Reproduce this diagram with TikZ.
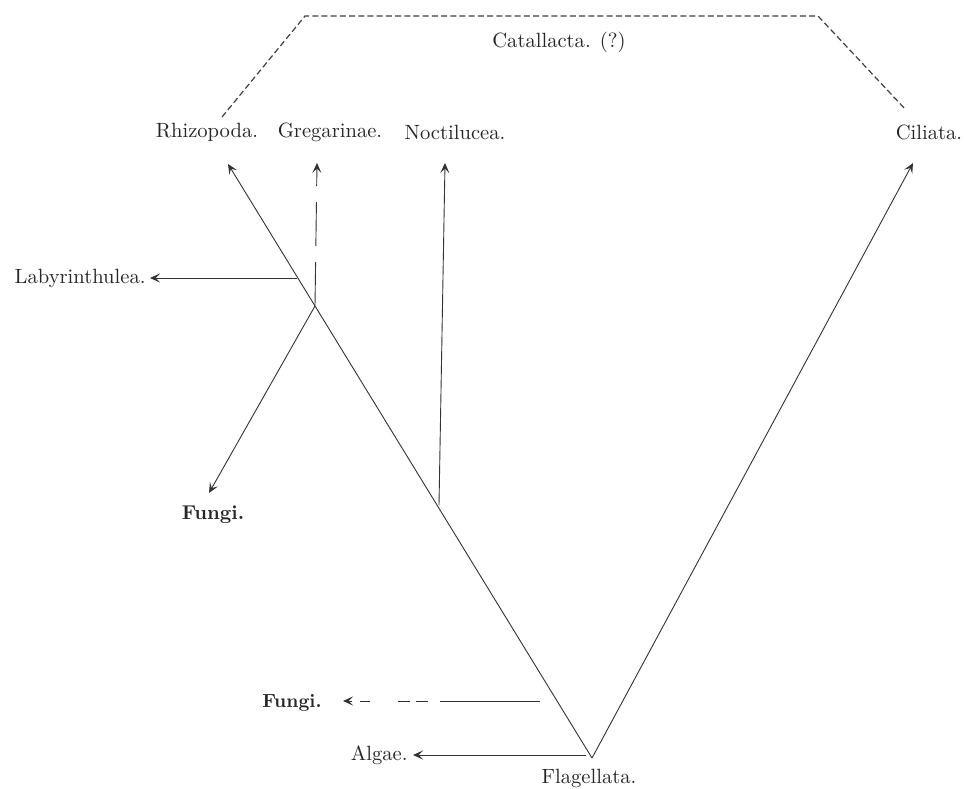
\documentclass[tikz,border=0pt]{standalone}
\usetikzlibrary{arrows.meta}
\begin{document}
\begin{tikzpicture}[x=0.5pt,y=-0.5pt,
  line width=0.45pt,
  ln/.style={draw=black!80},
  arr/.style={ln,-{Stealth[length=5pt,width=4.5pt,inset=2.2pt]}},
  dsh/.style={draw=black!75,line width=0.6pt,dash pattern=on 3pt off 1.6pt},
  lbl/.style={inner sep=1pt,text=black!85,font=\fontsize{10.3}{12}\selectfont}]
\useasboundingbox (0,0) rectangle (964,788);
\fill[white] (0,0) rectangle (964,788);
% coordinates
\coordinate (vtx) at (592,758);
\coordinate (rhT) at (228,164);
\coordinate (jL) at (297,278);
\coordinate (jG) at (315,306);
\coordinate (jN) at (439,505);
\coordinate (laT) at (150,278);
\coordinate (grT) at (317,163);
\coordinate (fuT) at (209,493);
\coordinate (noT) at (445,163);
\coordinate (ciT) at (913,163);
\coordinate (jF) at (540,701);
\coordinate (fbT) at (343,701);
\coordinate (jA) at (586,755);
\coordinate (alT) at (413,755);
\coordinate (c1) at (222,117);
\coordinate (c2) at (305,16);
\coordinate (c3) at (818,16);
\coordinate (c4) at (906,110);
% labels
\node[lbl] (rh) at (207,132) {Rhizopoda.};
\node[lbl] (gr) at (330,132) {Gregarinae.};
\node[lbl] (no) at (455,132) {Noctilucea.};
\node[lbl] (ci) at (929,132) {Ciliata.};
\node[lbl] (ca) at (559,42) {Catallacta. (?)};
\node[lbl,anchor=east] (la) at (148,278) {Labyrinthulea.};
\node[lbl,font=\fontsize{10}{12}\selectfont\bfseries] (fu) at (213,515) {Fungi.};
\node[lbl,font=\fontsize{9.5}{12}\selectfont\bfseries,anchor=east] (fb) at (324,703) {Fungi.};
\node[lbl,anchor=east] (al) at (410,755) {Algae.};
\node[lbl] (fl) at (589,778) {Flagellata.};
% connectors
\draw[arr] (vtx) -- (rhT);
\draw[arr] (vtx) -- (ciT);
\draw[arr] (jL) -- (laT);
\draw[arr,dash pattern=on 22pt off 8pt] (jG) -- (grT);
\draw[arr] (jG) -- (fuT);
\draw[arr] (jN) -- (noT);
\draw[arr,dash pattern=on 50pt off 6pt on 6pt off 3pt on 6pt off 14pt on 5pt off 4pt on 5pt off 3pt] (jF) -- (fbT);
\draw[arr] (jA) -- (alT);
\draw[dsh] (c1) -- (c2) -- (c3) -- (c4);
\end{tikzpicture}
\end{document}
